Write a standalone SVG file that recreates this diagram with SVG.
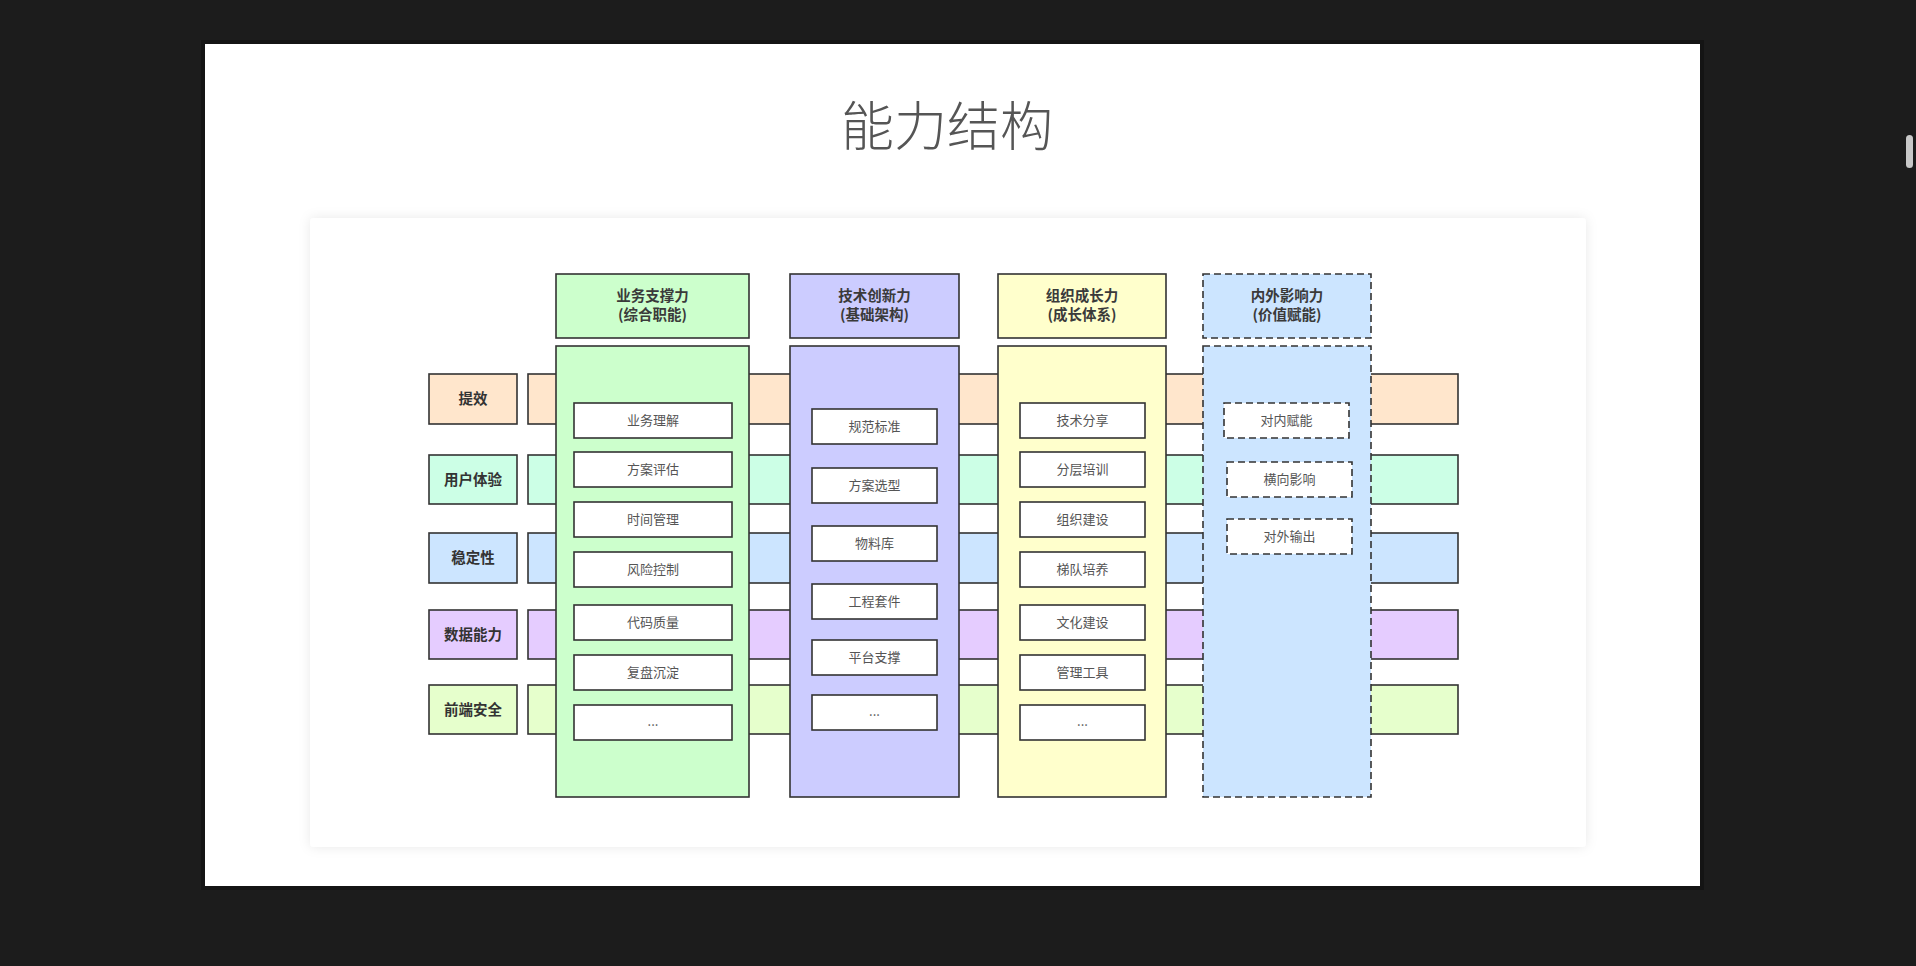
<svg xmlns="http://www.w3.org/2000/svg" width="1916" height="966" viewBox="0 0 1916 966">
<defs>
<filter id="cardShadow" x="-5%" y="-5%" width="110%" height="110%">
<feDropShadow dx="0" dy="0" stdDeviation="6" flood-color="#000" flood-opacity="0.09"/>
</filter>
<style>
.box{stroke:#333;stroke-width:1.6}
.dash{stroke:#333;stroke-width:1.6;stroke-dasharray:7 4}
.item{fill:#fff;stroke:#333;stroke-width:1.6}
.ditem{fill:#fff;stroke:#333;stroke-width:1.6;stroke-dasharray:7 4}
.hd{font-family:"Noto Sans CJK SC","Noto Sans",sans-serif;font-size:14.5px;font-weight:bold;fill:#3a3a3a;text-anchor:middle}
.it{font-family:"Noto Sans CJK SC","Noto Sans",sans-serif;font-size:13px;fill:#555;text-anchor:middle}
.lb{font-family:"Noto Sans CJK SC","Noto Sans",sans-serif;font-size:14.5px;font-weight:bold;fill:#333;text-anchor:middle}
</style>
</defs>
<rect x="0" y="0" width="1916" height="966" fill="#1c1c1c"/>
<rect x="201" y="40" width="1503" height="850" fill="#141414"/>
<rect x="205" y="44" width="1495" height="842" fill="#ffffff"/>
<rect x="1906" y="135" width="7" height="33" rx="3.5" fill="#c8c8c8"/>
<text x="947" y="146" font-family="'Noto Sans CJK SC','Noto Sans',sans-serif" font-size="53" font-weight="300" fill="#555" text-anchor="middle">能力结构</text>
<rect x="310" y="218" width="1276" height="629" rx="4" fill="#fff" filter="url(#cardShadow)"/>

<g id="bands">
<rect x="528" y="374" width="930" height="50" fill="#ffe6cc" class="box"/>
<rect x="528" y="455" width="930" height="49" fill="#ccffe6" class="box"/>
<rect x="528" y="533" width="930" height="50" fill="#cce5ff" class="box"/>
<rect x="528" y="610" width="930" height="49" fill="#e5ccff" class="box"/>
<rect x="528" y="685" width="930" height="49" fill="#e6ffcc" class="box"/>
</g>

<g id="row-labels">
<g id="label-tixiao"><rect x="429" y="374" width="88" height="50" fill="#ffe6cc" class="box"/><text x="473" y="404" class="lb">提效</text></g>
<g id="label-ux"><rect x="429" y="455" width="88" height="49" fill="#ccffe6" class="box"/><text x="473" y="484.5" class="lb">用户体验</text></g>
<g id="label-stability"><rect x="429" y="533" width="88" height="50" fill="#cce5ff" class="box"/><text x="473" y="563" class="lb">稳定性</text></g>
<g id="label-data"><rect x="429" y="610" width="88" height="49" fill="#e5ccff" class="box"/><text x="473" y="639.5" class="lb">数据能力</text></g>
<g id="label-security"><rect x="429" y="685" width="88" height="49" fill="#e6ffcc" class="box"/><text x="473" y="714.5" class="lb">前端安全</text></g>
</g>

<g id="col-business">
<rect x="556" y="274" width="193" height="64" fill="#ccffcc" class="box"/>
<text x="652.5" y="301" class="hd">业务支撑力</text>
<text x="652.5" y="319.5" class="hd">(综合职能)</text>
<rect x="556" y="346" width="193" height="451" fill="#ccffcc" class="box"/>
<rect x="574" y="403" width="158" height="35" class="item"/><text x="653" y="425" class="it">业务理解</text>
<rect x="574" y="452" width="158" height="35" class="item"/><text x="653" y="474" class="it">方案评估</text>
<rect x="574" y="502" width="158" height="35" class="item"/><text x="653" y="524" class="it">时间管理</text>
<rect x="574" y="552" width="158" height="35" class="item"/><text x="653" y="574" class="it">风险控制</text>
<rect x="574" y="605" width="158" height="35" class="item"/><text x="653" y="627" class="it">代码质量</text>
<rect x="574" y="655" width="158" height="35" class="item"/><text x="653" y="677" class="it">复盘沉淀</text>
<rect x="574" y="705" width="158" height="35" class="item"/><text x="653" y="726" class="it" font-size="9">...</text>
</g>

<g id="col-tech">
<rect x="790" y="274" width="169" height="64" fill="#ccccff" class="box"/>
<text x="874.5" y="301" class="hd">技术创新力</text>
<text x="874.5" y="319.5" class="hd">(基础架构)</text>
<rect x="790" y="346" width="169" height="451" fill="#ccccff" class="box"/>
<rect x="812" y="409" width="125" height="35" class="item"/><text x="874.5" y="431" class="it">规范标准</text>
<rect x="812" y="468" width="125" height="35" class="item"/><text x="874.5" y="490" class="it">方案选型</text>
<rect x="812" y="526" width="125" height="35" class="item"/><text x="874.5" y="548" class="it">物料库</text>
<rect x="812" y="584" width="125" height="35" class="item"/><text x="874.5" y="606" class="it">工程套件</text>
<rect x="812" y="640" width="125" height="35" class="item"/><text x="874.5" y="662" class="it">平台支撑</text>
<rect x="812" y="695" width="125" height="35" class="item"/><text x="874.5" y="716" class="it" font-size="9">...</text>
</g>

<g id="col-org">
<rect x="998" y="274" width="168" height="64" fill="#ffffcc" class="box"/>
<text x="1082" y="301" class="hd">组织成长力</text>
<text x="1082" y="319.5" class="hd">(成长体系)</text>
<rect x="998" y="346" width="168" height="451" fill="#ffffcc" class="box"/>
<rect x="1020" y="403" width="125" height="35" class="item"/><text x="1082.5" y="425" class="it">技术分享</text>
<rect x="1020" y="452" width="125" height="35" class="item"/><text x="1082.5" y="474" class="it">分层培训</text>
<rect x="1020" y="502" width="125" height="35" class="item"/><text x="1082.5" y="524" class="it">组织建设</text>
<rect x="1020" y="552" width="125" height="35" class="item"/><text x="1082.5" y="574" class="it">梯队培养</text>
<rect x="1020" y="605" width="125" height="35" class="item"/><text x="1082.5" y="627" class="it">文化建设</text>
<rect x="1020" y="655" width="125" height="35" class="item"/><text x="1082.5" y="677" class="it">管理工具</text>
<rect x="1020" y="705" width="125" height="35" class="item"/><text x="1082.5" y="726" class="it" font-size="9">...</text>
</g>

<g id="col-influence">
<rect x="1203" y="274" width="168" height="64" fill="#cce5ff" class="dash"/>
<text x="1287" y="301" class="hd">内外影响力</text>
<text x="1287" y="319.5" class="hd">(价值赋能)</text>
<rect x="1203" y="346" width="168" height="451" fill="#cce5ff" class="dash"/>
<rect x="1224" y="403" width="125" height="35" class="ditem"/><text x="1286.5" y="425" class="it">对内赋能</text>
<rect x="1227" y="462" width="125" height="35" class="ditem"/><text x="1289.5" y="484" class="it">横向影响</text>
<rect x="1227" y="519" width="125" height="35" class="ditem"/><text x="1289.5" y="541" class="it">对外输出</text>
</g>

<g id="connectors"/>
</svg>
